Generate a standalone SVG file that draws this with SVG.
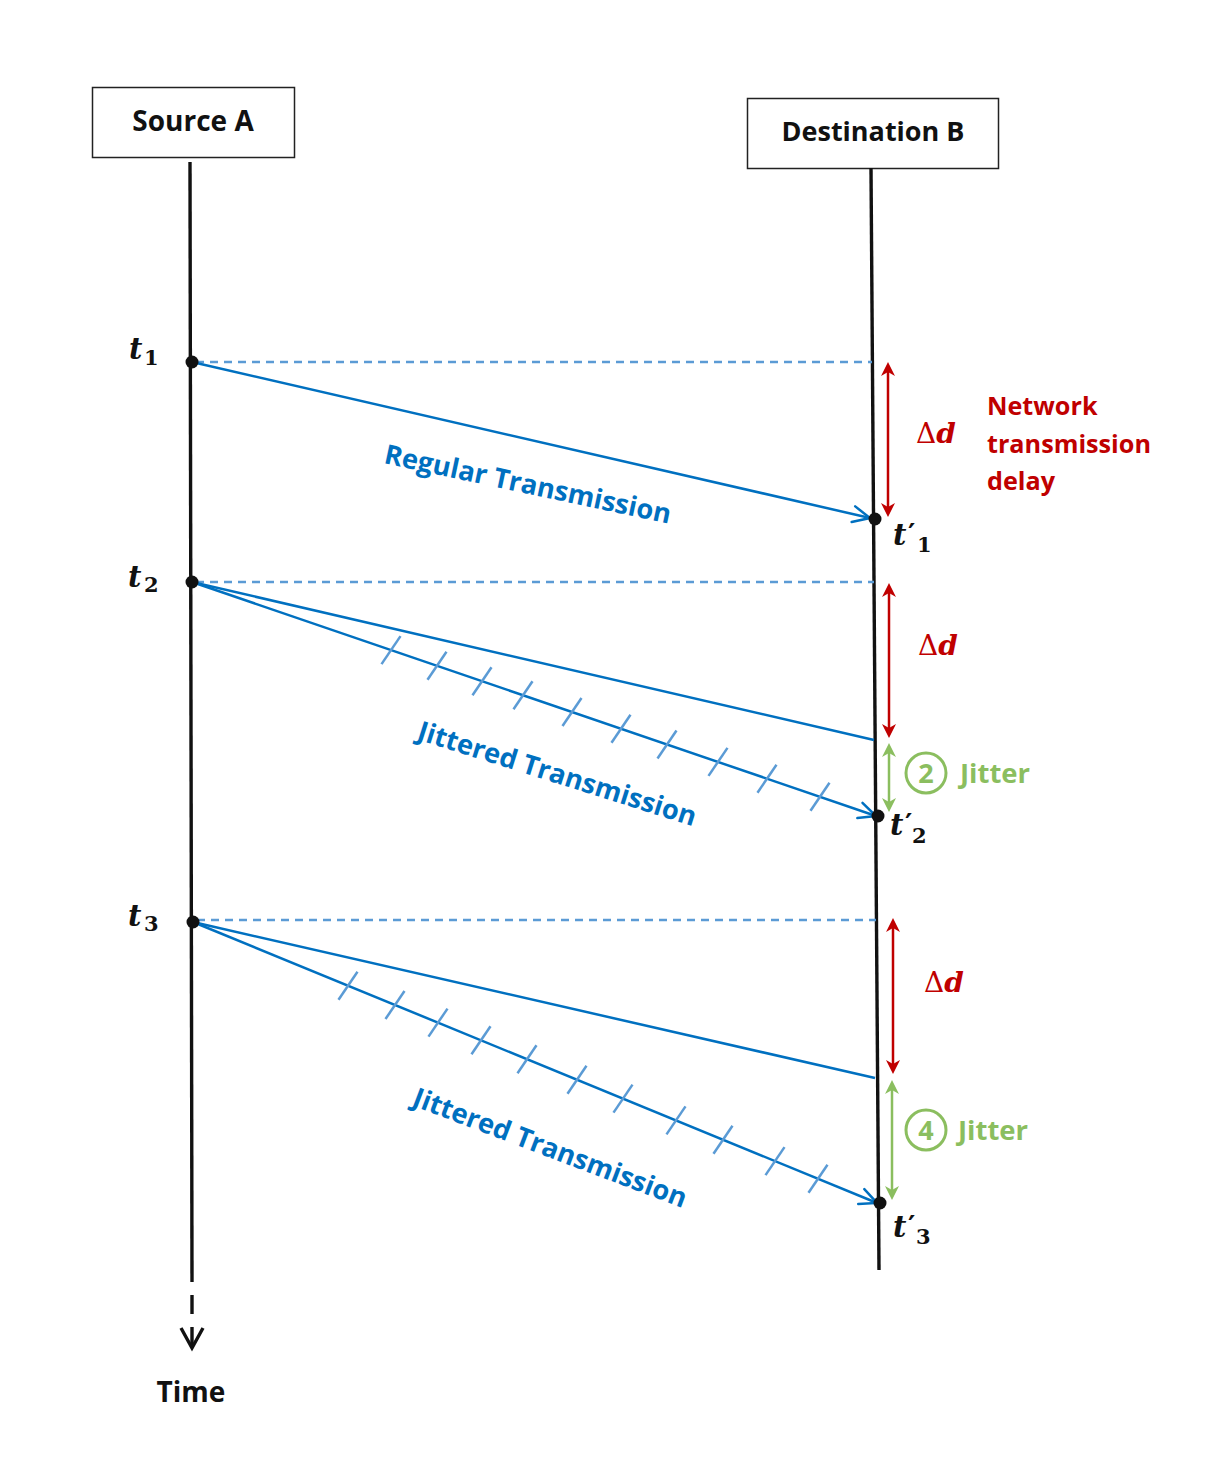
<svg xmlns="http://www.w3.org/2000/svg" width="1221" height="1457" viewBox="0 0 1221 1457">
<style>
.box{fill:#fff;stroke:#222;stroke-width:1.5}
.lbl{font-family:"Open Sans","Liberation Sans",sans-serif;font-weight:700}
.life{stroke:#111;stroke-width:3.4;fill:none;stroke-linecap:butt}
.msg{stroke:#0070C0;stroke-width:2.5;fill:none}
.dash{stroke:#5B9BD5;stroke-width:2.5;stroke-dasharray:8 6;fill:none}
.tick{stroke:#5B9BD5;stroke-width:2.5}
.red{stroke:#C00000;stroke-width:2.5;fill:none}
.grn{stroke:#8BBE5F;stroke-width:2.5;fill:none}
.math{font-family:"DejaVu Serif","Liberation Serif",serif}
.tv{font-family:"DejaVu Serif","Liberation Serif",serif;font-weight:700;font-style:italic;font-size:29px;fill:#111}
.sub{font-family:"DejaVu Serif","Liberation Serif",serif;font-weight:700;font-size:21px;fill:#111}
.pr{font-family:"DejaVu Serif","Liberation Serif",serif;font-weight:700;font-size:28px;fill:#111}
.blue{fill:#0070C0;font-size:27.2px}
.redt{fill:#C00000;font-size:25.2px}
.grnt{fill:#8BBE5F;font-size:27.5px}
</style>
<defs>
<marker id="ab" markerUnits="userSpaceOnUse" viewBox="-22 -12 26 24" markerWidth="26" markerHeight="24" refX="0" refY="0" orient="auto" overflow="visible">
<path d="M-17,-8 L0,0 L-17,8" fill="none" stroke="#0070C0" stroke-width="2.5" stroke-linecap="round"/>
</marker>
<marker id="ar" markerUnits="userSpaceOnUse" viewBox="-16 -10 26 20" markerWidth="26" markerHeight="20" refX="-8" refY="0" orient="auto-start-reverse" overflow="visible">
<path d="M0,0 L-14,-7 L-10,0 L-14,7 Z" fill="#C00000"/>
</marker>
<marker id="ag" markerUnits="userSpaceOnUse" viewBox="-16 -10 26 20" markerWidth="26" markerHeight="20" refX="-8" refY="0" orient="auto-start-reverse" overflow="visible">
<path d="M0,0 L-14,-7 L-10,0 L-14,7 Z" fill="#8BBE5F"/>
</marker>
</defs>
<rect width="1221" height="1457" fill="#fff"/>

<g id="sourceA">
<rect class="box" x="92.5" y="87.5" width="202" height="70"/>
<text class="lbl" x="193" y="131" font-size="28" text-anchor="middle" fill="#111">Source A</text>
</g>
<g id="destB">
<rect class="box" x="747.5" y="98.5" width="251" height="70"/>
<text class="lbl" x="873" y="141" font-size="27" text-anchor="middle" fill="#111">Destination B</text>
</g>

<g id="lifelines">
<line class="life" x1="190" y1="162" x2="192" y2="1282"/>
<line class="life" x1="192" y1="1295" x2="192" y2="1314"/>
<line class="life" x1="192" y1="1327" x2="192" y2="1347"/>
<polyline class="life" points="181,1328 192,1348 203,1328" stroke-linejoin="miter"/>
<line class="life" x1="871" y1="168" x2="879" y2="1270"/>
</g>
<g id="time">
<text class="lbl" x="191" y="1402" font-size="28" text-anchor="middle" fill="#111">Time</text>
</g>

<g id="connectors">
<line class="dash" x1="196" y1="362" x2="872" y2="362"/>
<line class="dash" x1="196" y1="582" x2="874" y2="582"/>
<line class="dash" x1="197" y1="920" x2="876" y2="920"/>
<line class="msg" x1="192" y1="362" x2="870" y2="518" marker-end="url(#ab)"/>
<line class="msg" x1="192" y1="582" x2="874" y2="740"/>
<line class="msg" x1="192" y1="582" x2="876" y2="816" marker-end="url(#ab)"/>
<line class="msg" x1="193" y1="922" x2="875" y2="1078"/>
<line class="msg" x1="193" y1="922" x2="877" y2="1203" marker-end="url(#ab)"/>
<g id="ticks2">
<line class="tick" x1="381.5" y1="664.1" x2="400.5" y2="636.1"/>
<line class="tick" x1="427.5" y1="679.8" x2="446.5" y2="651.8"/>
<line class="tick" x1="472.5" y1="695.2" x2="491.5" y2="667.2"/>
<line class="tick" x1="513.5" y1="709.2" x2="532.5" y2="681.2"/>
<line class="tick" x1="562.5" y1="726" x2="581.5" y2="698"/>
<line class="tick" x1="611.5" y1="742.8" x2="630.5" y2="714.8"/>
<line class="tick" x1="657.5" y1="758.5" x2="676.5" y2="730.5"/>
<line class="tick" x1="708.5" y1="775.9" x2="727.5" y2="747.9"/>
<line class="tick" x1="757.5" y1="792.7" x2="776.5" y2="764.7"/>
<line class="tick" x1="810.5" y1="810.8" x2="829.5" y2="782.8"/>
</g>
<g id="ticks3">
<line class="tick" x1="338.5" y1="999.7" x2="357.5" y2="971.7"/>
<line class="tick" x1="385.5" y1="1019" x2="404.5" y2="991"/>
<line class="tick" x1="428.5" y1="1036.6" x2="447.5" y2="1008.6"/>
<line class="tick" x1="471.5" y1="1054.3" x2="490.5" y2="1026.3"/>
<line class="tick" x1="517.5" y1="1073.2" x2="536.5" y2="1045.2"/>
<line class="tick" x1="567.5" y1="1093.7" x2="586.5" y2="1065.7"/>
<line class="tick" x1="613.5" y1="1112.6" x2="632.5" y2="1084.6"/>
<line class="tick" x1="666.5" y1="1134.4" x2="685.5" y2="1106.4"/>
<line class="tick" x1="713.5" y1="1153.7" x2="732.5" y2="1125.7"/>
<line class="tick" x1="765.5" y1="1175.1" x2="784.5" y2="1147.1"/>
<line class="tick" x1="808.5" y1="1192.8" x2="827.5" y2="1164.8"/>
</g>
<line class="red" x1="888" y1="370" x2="888" y2="509" marker-start="url(#ar)" marker-end="url(#ar)"/>
<line class="red" x1="889" y1="591" x2="889" y2="730" marker-start="url(#ar)" marker-end="url(#ar)"/>
<line class="red" x1="893" y1="926" x2="893" y2="1066" marker-start="url(#ar)" marker-end="url(#ar)"/>
<line class="grn" x1="889" y1="751" x2="889" y2="804" marker-start="url(#ag)" marker-end="url(#ag)"/>
<line class="grn" x1="892" y1="1088" x2="892" y2="1192" marker-start="url(#ag)" marker-end="url(#ag)"/>
</g>

<g id="points">
<circle cx="192" cy="362" r="6.5" fill="#111"/>
<circle cx="192" cy="582" r="6.5" fill="#111"/>
<circle cx="193" cy="922" r="6.5" fill="#111"/>
<circle cx="875" cy="519" r="6.5" fill="#111"/>
<circle cx="878" cy="816" r="6.5" fill="#111"/>
<circle cx="880" cy="1203" r="6.5" fill="#111"/>
</g>

<g id="labels-t">
<text class="tv" x="129" y="359">t</text><text class="sub" x="144" y="365">1</text>
<text class="tv" x="128" y="587">t</text><text class="sub" x="144" y="592">2</text>
<text class="tv" x="128" y="926">t</text><text class="sub" x="144" y="931">3</text>
<text class="tv" x="893" y="545">t</text><text class="pr" x="908" y="544">′</text><text class="sub" x="917" y="552">1</text>
<text class="tv" x="890" y="835">t</text><text class="pr" x="905" y="834">′</text><text class="sub" x="912" y="843">2</text>
<text class="tv" x="893" y="1237">t</text><text class="pr" x="908" y="1236">′</text><text class="sub" x="916" y="1244">3</text>
</g>

<g id="msg-labels">
<text class="lbl blue" transform="translate(383,463) rotate(12)">Regular Transmission</text>
<text class="lbl blue" transform="translate(416,739) rotate(17.5)">Jittered Transmission</text>
<text class="lbl blue" transform="translate(411,1105) rotate(20.8)">Jittered Transmission</text>
</g>

<g id="delay-labels" fill="#C00000">
<text class="math" x="916" y="443" font-size="28">Δ<tspan font-weight="700" font-style="italic">d</tspan></text>
<text class="math" x="918" y="655" font-size="28">Δ<tspan font-weight="700" font-style="italic">d</tspan></text>
<text class="math" x="924" y="992" font-size="28">Δ<tspan font-weight="700" font-style="italic">d</tspan></text>
</g>

<g id="network-note">
<text class="lbl redt" x="987" y="415">Network</text>
<text class="lbl redt" x="987" y="453">transmission</text>
<text class="lbl redt" x="987" y="490">delay</text>
</g>

<g id="jitter2">
<circle cx="926" cy="773" r="20" fill="none" stroke="#8BBE5F" stroke-width="3"/>
<text class="lbl" x="926" y="783" font-size="27" text-anchor="middle" fill="#8BBE5F">2</text>
<text class="lbl grnt" x="960" y="783">Jitter</text>
</g>
<g id="jitter3">
<circle cx="926" cy="1130" r="20" fill="none" stroke="#8BBE5F" stroke-width="3"/>
<text class="lbl" x="926" y="1140" font-size="27" text-anchor="middle" fill="#8BBE5F">4</text>
<text class="lbl grnt" x="958" y="1140">Jitter</text>
</g>
</svg>
